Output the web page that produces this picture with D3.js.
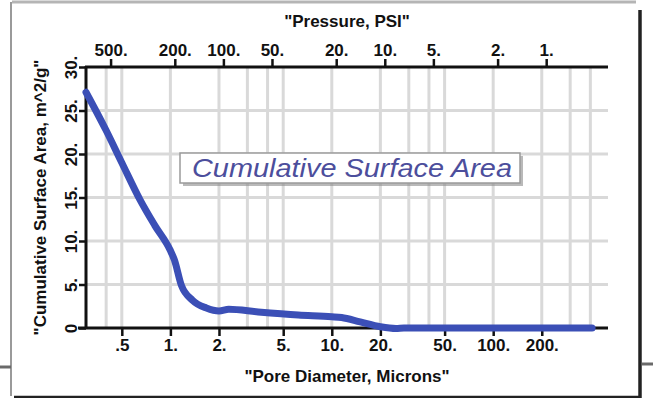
<!DOCTYPE html>
<html>
<head>
<meta charset="utf-8">
<script src="https://cdn.jsdelivr.net/npm/d3@7"></script>
<style>
  html, body { margin: 0; padding: 0; background: #fff; }
  svg { display: block; }
</style>
</head>
<body>
<svg id="chart" width="653" height="398"></svg>
<script>
// curve: pore diameter (microns) vs cumulative surface area (m^2/g)
var poreDiameter = [0.3, 0.4, 0.5, 0.65, 0.8, 1.0, 1.06, 1.17, 1.37, 1.67, 2.0, 2.3, 3.5, 6.2, 10, 11.5, 15, 20, 25, 28, 100, 410];
var surfaceArea  = [27.1, 22.7, 19.0, 14.7, 11.8, 8.9, 7.8, 4.9, 3.2, 2.3, 1.95, 2.15, 1.85, 1.5, 1.3, 1.2, 0.7, 0.15, -0.05, 0.0, 0.0, 0.0];

var diameterTicks  = [0.5, 1, 2, 5, 10, 20, 50, 100, 200];
var diameterLabels = [".5", "1.", "2.", "5.", "10.", "20.", "50.", "100.", "200."];
var diameterGrid   = [0.4, 0.5, 1, 2, 3, 4, 5, 10, 20, 30, 40, 50, 100, 200, 300, 400];
var pressureTicks  = [500, 200, 100, 50, 20, 10, 5, 2, 1];
var areaTicks      = [0, 5, 10, 15, 20, 25, 30];
var washburn = 213; // D(microns) = 213 / P(psi)

var svg = d3.select("#chart");
var plotL = 86, plotR = 606, plotT = 67, plotB = 328;

var x = d3.scaleLog().domain([0.3, 500]).range([plotL, plotR]);
var p = d3.scaleLog().domain([washburn / 0.3, washburn / 500]).range([plotL, plotR]);
var y = d3.scaleLinear().domain([0, 30]).range([plotB, plotT]);

var ink = "#111";
var font = "'Liberation Sans', Arial, sans-serif";

////////////////////////////////////////////////////// frame around the card
var frame = svg.append("g");
frame.append("line").attr("x1", 12).attr("x2", 636).attr("y1", 2).attr("y2", 2).style("stroke", "#b5b5b5").style("stroke-width", 3);
frame.append("line").attr("x1", 11).attr("x2", 11).attr("y1", 2).attr("y2", 396).style("stroke", "#9a9a9a").style("stroke-width", 2);
frame.append("line").attr("x1", 0).attr("x2", 11).attr("y1", 367).attr("y2", 367).style("stroke", "#6a6a6a").style("stroke-width", 3);
frame.append("line").attr("x1", 640).attr("x2", 640).attr("y1", 10).attr("y2", 398).style("stroke", "#222").style("stroke-width", 3.5);
frame.append("line").attr("x1", 642).attr("x2", 653).attr("y1", 364).attr("y2", 364).style("stroke", "#6a6a6a").style("stroke-width", 3);
frame.append("line").attr("x1", 14).attr("x2", 640).attr("y1", 397).attr("y2", 397).style("stroke", "#222").style("stroke-width", 2.5);

////////////////////////////////////////////////////// grid
var grid = svg.append("g");
grid.selectAll(".vg").data(diameterGrid).enter().append("line")
  .attr("x1", function(d) { return x(d); }).attr("x2", function(d) { return x(d); })
  .attr("y1", plotT).attr("y2", plotB)
  .style("stroke", "#d9d9d9").style("stroke-width", 3);
grid.selectAll(".hg").data(areaTicks.slice(1, -1)).enter().append("line")
  .attr("x1", plotL).attr("x2", plotR + 2)
  .attr("y1", function(d) { return y(d); }).attr("y2", function(d) { return y(d); })
  .style("stroke", "#d9d9d9").style("stroke-width", 3);

////////////////////////////////////////////////////// label box
var box = svg.append("g");
box.append("rect").attr("x", 183).attr("y", 156).attr("width", 340).attr("height", 30).style("fill", "#8a8a8a").style("opacity", 0.6);
box.append("rect").attr("x", 180).attr("y", 153).attr("width", 340).attr("height", 30).style("fill", "#fff").style("stroke", "#9a9a9a").style("stroke-width", 1.5);
box.append("text").attr("x", 192).attr("y", 177).attr("textLength", 320).attr("lengthAdjust", "spacingAndGlyphs")
  .style("font-family", font).style("font-style", "italic").style("font-size", "25px").style("fill", "#4c4e9c")
  .text("Cumulative Surface Area");

////////////////////////////////////////////////////// axes
function styleAxis(g) {
  g.select(".domain").remove();
  g.selectAll(".tick line").style("stroke", ink).style("stroke-width", 2.5);
  g.selectAll(".tick text").style("fill", ink).style("font-family", font).style("font-weight", "bold").style("font-size", "17px");
}

var bottomAxis = svg.append("g").attr("transform", "translate(0," + plotB + ")")
  .call(d3.axisBottom(x).tickValues(diameterTicks).tickSize(8).tickPadding(6)
    .tickFormat(function(d, i) { return diameterLabels[i]; }));
styleAxis(bottomAxis);
bottomAxis.selectAll(".tick text").attr("dy", 0).attr("y", 23);

var topAxis = svg.append("g").attr("transform", "translate(0," + plotT + ")")
  .call(d3.axisTop(p).tickValues(pressureTicks).tickSize(8).tickFormat(function(d) { return d + "."; }));
styleAxis(topAxis);
topAxis.selectAll(".tick text").attr("dy", 0).attr("y", -11);

var leftAxis = svg.append("g").attr("transform", "translate(" + plotL + ",0)")
  .call(d3.axisLeft(y).tickValues(areaTicks).tickSize(7).tickFormat(function(d) { return d === 0 ? "0" : d + "."; }));
styleAxis(leftAxis);
leftAxis.selectAll(".tick text").attr("transform", "rotate(-90)").attr("x", 0).attr("y", -9).attr("dy", 0).attr("text-anchor", "middle");

// axis lines
svg.append("line").attr("x1", plotL - 8).attr("x2", plotR + 2).attr("y1", plotB).attr("y2", plotB).style("stroke", ink).style("stroke-width", 3);
svg.append("line").attr("x1", plotL - 1).attr("x2", plotR + 2).attr("y1", plotT).attr("y2", plotT).style("stroke", ink).style("stroke-width", 3);
svg.append("line").attr("x1", plotL).attr("x2", plotL).attr("y1", plotT - 1).attr("y2", plotB + 1).style("stroke", ink).style("stroke-width", 3);

////////////////////////////////////////////////////// curve
var pts = poreDiameter.map(function(d, i) { return [d, surfaceArea[i]]; });
svg.append("path").datum(pts)
  .attr("d", d3.line().x(function(d) { return x(d[0]); }).y(function(d) { return y(d[1]); }).curve(d3.curveMonotoneX))
  .style("fill", "none").style("stroke", "#3b4fb6").style("stroke-width", 7)
  .style("stroke-linecap", "round").style("stroke-linejoin", "round");

////////////////////////////////////////////////////// axis titles
svg.append("text").attr("x", 347).attr("y", 27).attr("text-anchor", "middle")
  .style("font-family", font).style("font-weight", "bold").style("font-size", "17px").style("fill", ink)
  .text('"Pressure, PSI"');
svg.append("text").attr("x", 347).attr("y", 382).attr("text-anchor", "middle")
  .style("font-family", font).style("font-weight", "bold").style("font-size", "17px").style("fill", ink)
  .text('"Pore Diameter, Microns"');
svg.append("g").attr("transform", "translate(46," + ((plotT + plotB) / 2) + ")")
  .append("text").attr("text-anchor", "middle").attr("transform", "rotate(-90)")
  .style("font-family", font).style("font-weight", "bold").style("font-size", "17px").style("fill", ink)
  .text('"Cumulative Surface Area, m^2/g"');
</script>
</body>
</html>
